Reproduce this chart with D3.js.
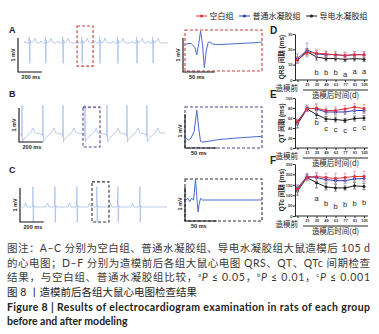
<!DOCTYPE html>
<html>
<head>
<meta charset="utf-8">
<script src="https://cdn.jsdelivr.net/npm/d3@7"></script>
<style>
  body { margin: 0; background: #fff; }
  svg { display: block; font-family: "Liberation Sans", "Noto Sans CJK SC", sans-serif; }
</style>
</head>
<body>
<div id="chart"></div>
<script>
// ---- data ----
const groups = ["空白组", "普通水凝胶组", "导电水凝胶组"];
const timepoints = ["造模前", "21", "35", "49", "63", "77", "91", "105"];

// ECG beat shapes: [ms from R peak, mV]
const beatA = [[-55, 0], [-40, 0.06], [-30, 0], [-8, 0], [-4, 0.18], [0, -0.6], [4, 0.08], [9, 0], [30, 0.04], [42, 0.14], [55, 0.02], [75, 0]];
const beatB = [[-60, 0], [-8, -0.04], [-3, -0.1], [0, 0.82], [4, -0.26], [10, -0.2], [35, -0.1], [70, 0], [95, 0.15], [105, 0.02], [115, 0]];
const beatC = [[-75, 0], [-62, 0.12], [-50, 0], [-6, 0], [-3, 0.05], [0, 0.6], [3, -0.45], [7, 0.05], [12, 0], [90, 0]];
const beatTimesA = [40, 175, 320, 480, 630, 780, 940, 1075];
const beatTimesB = [17, 193, 362, 547, 732, 900, 1068];
const beatTimesC = [92, 277, 462, 630, 807, 992];

// zoomed single beats: [ms from box start, mV]
const detailA = [[0, 0], [8, 0.02], [14, -0.1], [17, -0.32], [20, 0], [23, 0.38], [26, 0], [29, -0.7], [32, -0.2], [35, 0.05], [38, 0.06], [42, 0], [50, -0.02], [70, 0], [90, 0.02], [110, 0.04], [120, 0.06]];
const detailB = [[0, 0], [4, -0.06], [8, 0], [13, 0.2], [17, 0.82], [20, 0.3], [23, -0.1], [26, -0.12], [35, -0.1], [50, -0.05], [80, 0], [120, 0.05]];
const detailC = [[0, 0], [3, 0.05], [6, -0.05], [9, 0.05], [12, 0], [15, 0.62], [17, 0.1], [19, -0.35], [21, -0.1], [23, 0.05], [26, 0], [120, 0]];

// QRS (ms)
const qrsBlank = [13, 18, 17.5, 17, 16.5, 16, 16.5, 16.5];
const qrsBlankSd = [2, 2, 2.5, 2, 2, 2, 2, 2];
const qrsGel = [14, 19.5, 17, 16.5, 16.5, 16, 16.5, 16.5];
const qrsGelSd = [3, 4.5, 2, 2, 2, 2, 2, 2];
const qrsConductive = [13, 18.5, 15, 14, 14, 13.5, 14, 13.5];
const qrsConductiveSd = [2, 2, 2, 1.5, 1.5, 1.5, 1.5, 1.5];
const qrsSig = ["", "", "b", "b", "b", "a", "a", "a"];
const qrsSigAt = [0, 0, 5, 5, 5, 3.5, 5.5, 5.5];

// QT (ms)
const qtBlank = [53, 78, 80, 75, 75, 78, 82, 79];
const qtBlankSd = [5, 5, 8, 7, 7, 7, 7, 8];
const qtGel = [52, 80, 78, 72, 72, 72, 75, 75];
const qtGelSd = [5, 6, 10, 6, 6, 5, 6, 6];
const qtConductive = [48, 78, 67, 58, 57, 55, 59, 60];
const qtConductiveSd = [8, 5, 8, 5, 5, 4, 5, 5];
const qtSig = ["", "", "b", "c", "c", "c", "c", "c"];
const qtSigAt = [0, 0, 51, 40, 37, 36, 40, 41];

// QTc (ms)
const qtcBlank = [130, 185, 190, 185, 180, 185, 190, 190];
const qtcBlankSd = [15, 15, 20, 20, 25, 20, 25, 25];
const qtcGel = [135, 190, 185, 175, 170, 170, 178, 180];
const qtcGelSd = [15, 15, 20, 15, 15, 15, 15, 15];
const qtcConductive = [120, 185, 160, 140, 135, 135, 145, 142];
const qtcConductiveSd = [20, 15, 25, 15, 15, 10, 15, 15];
const qtcSig = ["", "", "a", "b", "b", "b", "b", "b"];
const qtcSigAt = [0, 0, 85, 63, 48, 55, 63, 66];

// ---- drawing ----
const W = 379, H = 334;
const lineColors = ["#e3333b", "#2b3dbd", "#1e1e1e"];
const barColors = ["#ef8b8f", "#7b86dc", "#555"];

const svg = d3.select("#chart").append("svg")
  .attr("width", W).attr("height", H)
  .attr("viewBox", `0 0 ${W} ${H}`);

// legend
const legendX = [196, 239, 306];
groups.forEach((g, i) => {
  const lg = svg.append("g").attr("transform", `translate(${legendX[i]},16)`);
  lg.append("line").attr("x1", 0).attr("x2", 11).attr("stroke", lineColors[i]).attr("stroke-width", 1);
  lg.append("circle").attr("cx", 5.5).attr("r", 1.6).attr("fill", lineColors[i]);
  lg.append("text").attr("x", 13.5).attr("dy", "0.35em")
    .attr("font-size", 8).attr("fill", "#222")
    .attr("font-family", "'Noto Sans CJK SC', sans-serif")
    .text(g);
});

// ECG panels
const ecgPanels = [
  { key: "A", beat: beatA, times: beatTimesA, detail: detailA, tEnd: 1200,
    x: [25, 168], base: 43, boxT: [437, 571], boxV: [0.5, -0.68], bar: [18, 72],
    dBase: 44, dBox: [30, 71], dBar: [183, 72], labelY: 33, boxColor: "#c9403f" },
  { key: "B", beat: beatB, times: beatTimesB, detail: detailB, tEnd: 1220,
    x: [20, 165], base: 133, boxT: [530, 673], boxV: [0.76, -0.41], bar: [19, 142],
    dBase: 138, dBox: [107, 148], dBar: [185, 148], labelY: 97, boxColor: "#5b3f8c" },
  { key: "C", beat: beatC, times: beatTimesC, detail: detailC, tEnd: 1220,
    x: [22, 167], base: 207, boxT: [589, 732], boxV: [0.74, -0.44], bar: [20, 222],
    dBase: 200, dBox: [179, 221], dBar: [185, 221], labelY: 173, boxColor: "#333" }
];

const mvPx = 34; // 1 mV
const ecgLine = (xs, ys) => d3.line().x(d => xs(d[0])).y(d => ys(d[1]));

ecgPanels.forEach(p => {
  svg.append("text").attr("x", 9).attr("y", p.labelY)
    .attr("font-size", 9).attr("font-weight", "bold").attr("fill", "#222").text(p.key);

  // overview trace
  const xs = d3.scaleLinear().domain([0, p.tEnd]).range(p.x);
  const ys = d3.scaleLinear().domain([-1, 1]).range([p.base + mvPx, p.base - mvPx]);
  const pts = [[0, 0]];
  p.times.forEach(bt => p.beat.forEach(([t, v]) => pts.push([bt + t, v])));
  pts.push([p.tEnd, 0]);
  const trace = pts.filter(d => d[0] >= 0 && d[0] <= p.tEnd).sort((a, b) => a[0] - b[0]);

  svg.append("path").datum(trace)
    .attr("d", ecgLine(xs, ys))
    .attr("fill", "none").attr("stroke", "#a9bfe9").attr("stroke-width", 0.8);

  svg.append("rect")
    .attr("x", xs(p.boxT[0])).attr("y", ys(p.boxV[0]))
    .attr("width", xs(p.boxT[1]) - xs(p.boxT[0]))
    .attr("height", ys(p.boxV[1]) - ys(p.boxV[0]))
    .attr("fill", "none").attr("stroke", p.boxColor)
    .attr("stroke-width", 1.1).attr("stroke-dasharray", "3,2");

  // scale bar 1 mV / 200 ms
  const [bx, by] = p.bar;
  const len200 = xs(200) - xs(0);
  svg.append("path")
    .attr("d", `M${bx},${by - mvPx}V${by}H${bx + len200}`)
    .attr("fill", "none").attr("stroke", "#111").attr("stroke-width", 1.1);
  svg.append("text").attr("x", bx - 3).attr("y", by - mvPx / 2)
    .attr("transform", `rotate(-90,${bx - 3},${by - mvPx / 2})`)
    .attr("text-anchor", "middle").attr("font-size", 5.5).attr("font-weight", "bold")
    .attr("fill", "#222").text("1 mV");
  svg.append("text").attr("x", bx + len200 / 2 + 1).attr("y", by + 7)
    .attr("text-anchor", "middle").attr("font-size", 5.5).attr("font-weight", "bold")
    .attr("fill", "#222").text("200 ms");

  // zoomed beat
  const dx = d3.scaleLinear().domain([0, 120]).range([186, 262]);
  const dy = d3.scaleLinear().domain([-1, 1]).range([p.dBase + mvPx, p.dBase - mvPx]);
  svg.append("rect")
    .attr("x", 185).attr("y", p.dBox[0])
    .attr("width", 77).attr("height", p.dBox[1] - p.dBox[0])
    .attr("fill", "none").attr("stroke", p.boxColor)
    .attr("stroke-width", 1.1).attr("stroke-dasharray", "3,2");
  svg.append("path").datum(p.detail)
    .attr("d", ecgLine(dx, dy))
    .attr("fill", "none").attr("stroke", "#4a6ad3").attr("stroke-width", 1);

  const [ex, ey] = p.dBar;
  const len50 = dx(50) - dx(0);
  svg.append("path")
    .attr("d", `M${ex},${ey - mvPx}V${ey}H${ex + len50}`)
    .attr("fill", "none").attr("stroke", "#111").attr("stroke-width", 1.1);
  svg.append("text").attr("x", ex - 3).attr("y", ey - mvPx / 2)
    .attr("transform", `rotate(-90,${ex - 3},${ey - mvPx / 2})`)
    .attr("text-anchor", "middle").attr("font-size", 5.5).attr("font-weight", "bold")
    .attr("fill", "#222").text("1 mV");
  svg.append("text").attr("x", ex + len50 / 2 - 2).attr("y", ey + 7)
    .attr("text-anchor", "middle").attr("font-size", 5.5).attr("font-weight", "bold")
    .attr("fill", "#222").text("50 ms");
});

// interval charts D-F
const charts = [
  { key: "D", yLabel: "QRS 间期 (ms)", max: 30, ticks: [0, 10, 20, 30], top: 34, bottom: 80,
    means: [qrsBlank, qrsGel, qrsConductive], sds: [qrsBlankSd, qrsGelSd, qrsConductiveSd],
    sig: qrsSig, sigAt: qrsSigAt },
  { key: "E", yLabel: "QT 间期 (ms)", max: 100, ticks: [0, 20, 40, 60, 80, 100], top: 98, bottom: 148,
    means: [qtBlank, qtGel, qtConductive], sds: [qtBlankSd, qtGelSd, qtConductiveSd],
    sig: qtSig, sigAt: qtSigAt },
  { key: "F", yLabel: "QTc 间期 (ms)", max: 250, ticks: [0, 50, 100, 150, 200, 250], top: 164, bottom: 216,
    means: [qtcBlank, qtcGel, qtcConductive], sds: [qtcBlankSd, qtcGelSd, qtcConductiveSd],
    sig: qtcSig, sigAt: qtcSigAt }
];

const axisX = 295, axisEnd = 368;
const x = d3.scalePoint().domain(timepoints).range([297.5, 364]);

charts.forEach(c => {
  const y = d3.scaleLinear().domain([0, c.max]).range([c.bottom, c.top]);
  const g = svg.append("g");

  g.append("text").attr("x", 270).attr("y", c.top - 0.5)
    .attr("font-size", 10).attr("font-weight", "bold").attr("fill", "#222").text(c.key);

  // y axis
  g.append("g").attr("transform", `translate(${axisX},0)`)
    .call(d3.axisLeft(y).tickValues(c.ticks).tickSize(2).tickSizeOuter(0))
    .call(a => a.selectAll("text").attr("font-size", 4).attr("font-weight", "bold").attr("fill", "#333").attr("x", -2.5))
    .call(a => a.selectAll("line,path").attr("stroke", "#111").attr("stroke-width", 0.9));

  g.append("text")
    .attr("transform", `translate(284,${(c.top + c.bottom) / 2}) rotate(-90)`)
    .attr("text-anchor", "middle").attr("font-size", 6.5).attr("font-weight", "bold")
    .attr("fill", "#222").text(c.yLabel);

  // x axis
  g.append("g").attr("transform", `translate(0,${c.bottom})`)
    .call(d3.axisBottom(x).tickSize(2).tickSizeOuter(0).tickFormat(d => d === "造模前" ? "" : d))
    .call(a => a.select(".domain").attr("d", `M${axisX},0H${axisEnd}`))
    .call(a => a.selectAll("text").attr("font-size", 4).attr("font-weight", "bold").attr("fill", "#333").attr("y", 3.5))
    .call(a => a.selectAll("line,path").attr("stroke", "#111").attr("stroke-width", 0.9));

  g.append("text").attr("x", x("造模前") + 0.5).attr("y", c.bottom + 10.5)
    .attr("text-anchor", "end").attr("font-size", 7.5).attr("fill", "#222")
    .attr("font-family", "'Noto Sans CJK SC', sans-serif").text("造模前");

  g.append("line")
    .attr("x1", x("21") - 4).attr("x2", x("105") + 4)
    .attr("y1", c.bottom + 10).attr("y2", c.bottom + 10)
    .attr("stroke", "#111").attr("stroke-width", 0.9);
  g.append("text").attr("x", (x("21") + x("105")) / 2).attr("y", c.bottom + 18)
    .attr("text-anchor", "middle").attr("font-size", 7.5).attr("fill", "#222")
    .attr("font-family", "'Noto Sans CJK SC', sans-serif").text("造模后时间(d)");

  // series, black first so red sits on top
  [2, 1, 0].forEach(i => {
    const rows = timepoints.map((t, j) => ({ t, m: c.means[i][j], s: c.sds[i][j] }));
    const eb = g.append("g").attr("stroke", barColors[i]).attr("stroke-width", 0.7);
    rows.forEach(r => {
      eb.append("line").attr("x1", x(r.t)).attr("x2", x(r.t)).attr("y1", y(r.m - r.s)).attr("y2", y(r.m + r.s));
      eb.append("line").attr("x1", x(r.t) - 1.5).attr("x2", x(r.t) + 1.5).attr("y1", y(r.m + r.s)).attr("y2", y(r.m + r.s));
      eb.append("line").attr("x1", x(r.t) - 1.5).attr("x2", x(r.t) + 1.5).attr("y1", y(r.m - r.s)).attr("y2", y(r.m - r.s));
    });
    g.append("path").datum(rows)
      .attr("d", d3.line().x(d => x(d.t)).y(d => y(d.m)))
      .attr("fill", "none").attr("stroke", lineColors[i]).attr("stroke-width", 1);
    g.selectAll(null).data(rows).join("circle")
      .attr("cx", d => x(d.t)).attr("cy", d => y(d.m)).attr("r", 1.5)
      .attr("fill", lineColors[i]);
  });

  // significance letters
  g.selectAll(null).data(timepoints.filter((t, j) => c.sig[j]))
    .join("text")
    .attr("x", t => x(t))
    .attr("y", t => y(c.sigAt[timepoints.indexOf(t)]))
    .attr("dy", "0.35em").attr("text-anchor", "middle")
    .attr("font-size", 7.5).attr("fill", "#222")
    .text(t => c.sig[timepoints.indexOf(t)]);
});

// caption
const cap = svg.append("g").attr("font-family", "Lato, 'Noto Sans CJK SC', sans-serif").attr("fill", "#3a3a3a");
const capW = 363;
cap.append("text").attr("x", 7).attr("y", 252).attr("font-size", 10.5)
  .attr("textLength", capW).attr("lengthAdjust", "spacing")
  .text("图注：A–C 分别为空白组、普通水凝胶组、导电水凝胶组大鼠造模后 105 d");
cap.append("text").attr("x", 7).attr("y", 267).attr("font-size", 10.5)
  .attr("textLength", capW).attr("lengthAdjust", "spacing")
  .text("的心电图；D–F 分别为造模前后各组大鼠心电图 QRS、QT、QTc 间期检查");
const l3 = cap.append("text").attr("x", 7).attr("y", 281).attr("font-size", 10.5)
  .attr("textLength", capW).attr("lengthAdjust", "spacing");
l3.append("tspan").text("结果，与空白组、普通水凝胶组比较，");
[["a", "0.05，"], ["b", "0.01，"], ["c", "0.001"]].forEach(([s, v]) => {
  l3.append("tspan").attr("font-size", 6).attr("dy", -4).text(s);
  l3.append("tspan").attr("font-style", "italic").attr("dy", 4).text("P");
  l3.append("tspan").text(` ≤ ${v}`);
});
cap.append("text").attr("x", 7).attr("y", 296).attr("font-size", 10.5).attr("fill", "#222")
  .text("图 8 丨造模前后各组大鼠心电图检查结果");
cap.append("text").attr("x", 7).attr("y", 311).attr("font-size", 10.5).attr("font-weight", "bold")
  .attr("fill", "#222").attr("textLength", capW).attr("lengthAdjust", "spacing")
  .text("Figure 8 | Results of electrocardiogram examination in rats of each group");
cap.append("text").attr("x", 7).attr("y", 325).attr("font-size", 10.5).attr("font-weight", "bold")
  .attr("fill", "#222").text("before and after modeling");
</script>
</body>
</html>
